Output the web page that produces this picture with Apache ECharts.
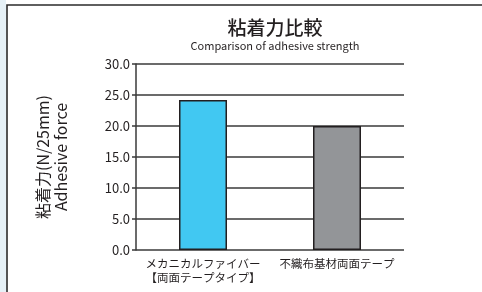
<!DOCTYPE html>
<html>
<head>
<meta charset="utf-8">
<script src="https://cdn.jsdelivr.net/npm/echarts@6/dist/echarts.min.js"></script>
<style>
  html, body { margin: 0; padding: 0; background: #fff; }
  #chart { width: 482px; height: 292px; }
</style>
</head>
<body>
<div id="chart"></div>
<script>
// データ
var categories = ['メカニカルファイバー\n【両面テープタイプ】', '不織布基材両面テープ'];
var values = [24.2, 20.0];
var barColors = ['#41c8f2', '#939598'];

var chart = echarts.init(document.getElementById('chart'));
var font = '"Noto Sans CJK JP", "Open Sans", sans-serif';

var option = {
    animation: false,
    backgroundColor: '#fff',
    title: {
        text: '粘着力比較',
        subtext: 'Comparison of adhesive strength',
        left: 270,
        textAlign: 'center',
        top: 13,
        itemGap: 3,
        textStyle: { fontFamily: font, fontSize: 19, fontWeight: 500, color: '#231f20' },
        subtextStyle: { fontFamily: font, fontSize: 11, color: '#231f20' }
    },
    grid: { left: 136, right: 78, top: 64, bottom: 42 },
    xAxis: {
        type: 'category',
        data: categories,
        axisLine: { show: false },
        axisTick: { show: false },
        axisLabel: { interval: 0, fontFamily: font, fontSize: 11.5, color: '#231f20', margin: 7, lineHeight: 14 }
    },
    yAxis: {
        type: 'value',
        min: 0,
        max: 30,
        interval: 5,
        name: '粘着力(N/25mm)\nAdhesive force',
        nameLocation: 'middle',
        nameRotate: 90,
        nameGap: 66,
        nameTextStyle: { fontFamily: font, fontSize: 16, color: '#231f20', lineHeight: 18 },
        axisLine: { show: true, lineStyle: { color: '#3a3a3a', width: 1.5 } },
        axisTick: { show: true, length: 4, lineStyle: { color: '#3a3a3a', width: 1.5 } },
        axisLabel: {
            fontFamily: font, fontSize: 13, color: '#231f20', margin: 6,
            formatter: function (v) { return v.toFixed(1); }
        },
        splitLine: { show: true, lineStyle: { color: '#3a3a3a', width: 1.5 } }
    },
    series: [{
        type: 'bar',
        barWidth: 48,
        data: values.map(function (v, i) {
            return { value: v, itemStyle: { color: barColors[i] } };
        }),
        itemStyle: { borderColor: '#231f20', borderWidth: 1.5 }
    }],
    graphic: [
        { type: 'rect', shape: { x: 0, y: 0, width: 6, height: 292 }, style: { fill: '#e6f1f7' } },
        { type: 'polyline', shape: { points: [[7, 292], [7, 5], [482, 5]] },
          style: { stroke: '#2b2b2b', lineWidth: 1.6, fill: null } }
    ]
};

chart.setOption(option);
</script>
</body>
</html>
